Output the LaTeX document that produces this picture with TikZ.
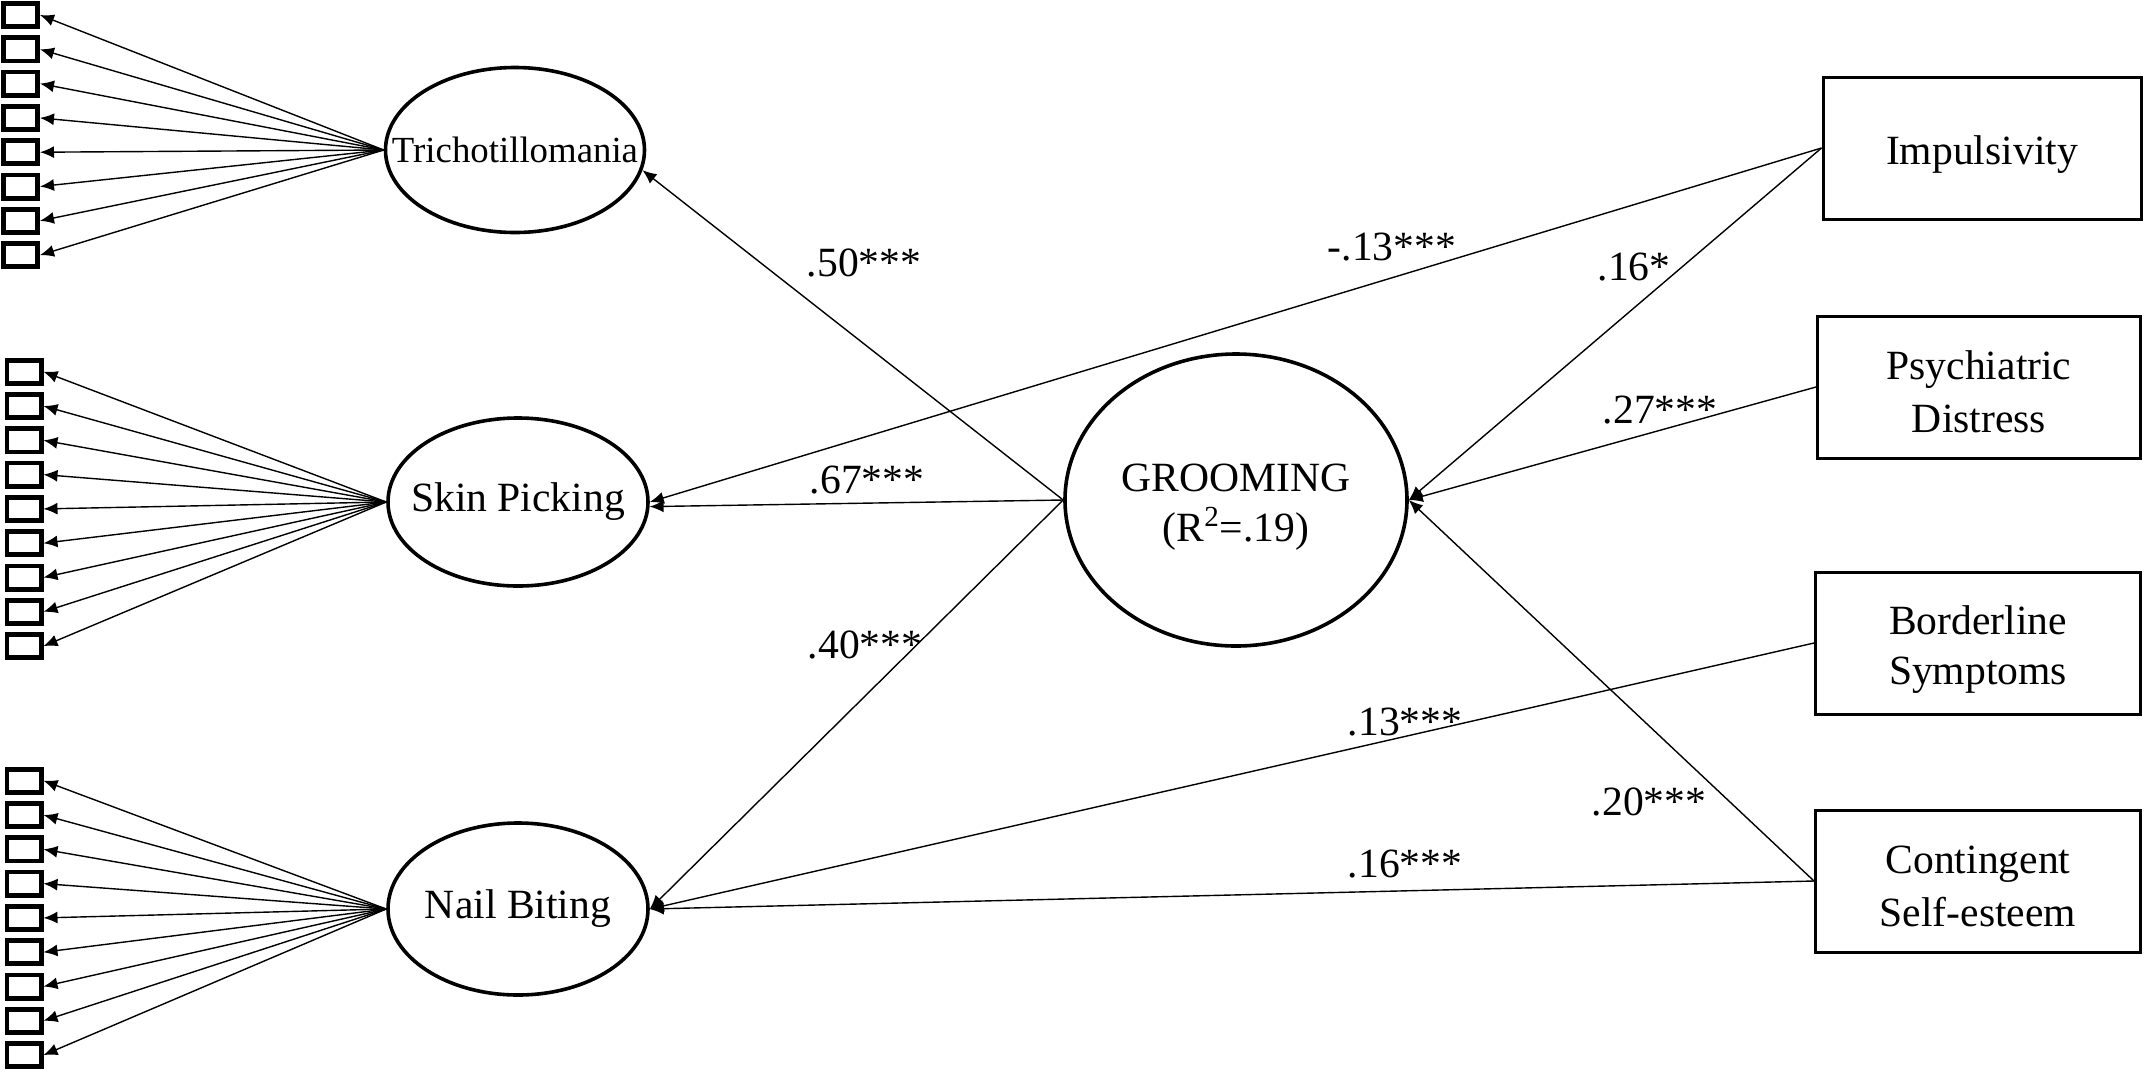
\documentclass[tikz,border=0pt]{standalone}
\usepackage{fontspec}
\setmainfont{Liberation Serif}
\usetikzlibrary{arrows.meta,shapes.geometric}
\newcommand\lnstrut{\rule[-2pt]{0pt}{23pt}}
\tikzset{latent/.style={draw, ellipse, line width=1.8pt, inner sep=0pt, align=center},
    observed/.style={draw, rectangle, line width=1.5pt, minimum height=71pt, align=center},
    indicator/.style={draw, rectangle, line width=2.4pt, minimum width=17.1pt, minimum height=11.6pt, inner sep=0pt},
    regr/.style={-{Latex[length=7pt,width=6pt]}, line width=0.7pt},
    coef/.style={inner sep=0pt},
    }

\begin{document}
\begin{tikzpicture}[x=0.5pt, y=-0.5pt, font=\fontsize{20.8}{25}\selectfont]
\useasboundingbox (0,0) rectangle (2144,1073);

% latent factors
\node[latent, minimum width=129.5pt, minimum height=82.5pt, font=\fontsize{18.4}{22}\selectfont] (tri) at (515,150) {\makebox[0pt]{Trichotillomania}};
\node[latent, minimum width=130pt, minimum height=84pt] (skin) at (518,502) {\makebox[0pt]{Skin Picking}};
\node[latent, minimum width=130pt, minimum height=86pt] (nail) at (518,909) {\makebox[0pt]{Nail Biting}};
\node[latent, minimum width=171pt, minimum height=146pt] (groom) at (1236,500) {\rule{0pt}{20.5pt}GROOMING\\(R\textsuperscript{2}=.19)};

% predictors
\node[observed, minimum width=159pt] (imp) at (1982,148) {\lnstrut Impulsivity\lnstrut};
\node[observed, minimum width=161.5pt] (psy) at (1979,387) {\lnstrut Psychiatric\\Distress\lnstrut};
\node[observed, minimum width=162.5pt] (bord) at (1978,643) {\lnstrut Borderline\\Symptoms\lnstrut};
\node[observed, minimum width=162.5pt] (cont) at (1978,881) {\lnstrut Contingent\\Self-esteem\lnstrut};

% indicators
\foreach \i in {1,...,8}
    \node[indicator] (tri\i) at (20.5,{15+34.3*(\i-1)}) {};
\foreach \i in {1,...,9}
    \node[indicator] (skin\i) at (24,{371.7+34.3*(\i-1)}) {};
\foreach \i in {1,...,9}
    \node[indicator] (nail\i) at (24,{780.7+34.3*(\i-1)}) {};

% loadings
\foreach \i in {1,...,8}
    \draw[regr] (tri.west) -- (tri\i.east);
\foreach \i in {1,...,9}
    \draw[regr] (skin.west) -- (skin\i.east);
\foreach \i in {1,...,9}
    \draw[regr] (nail.west) -- (nail\i.east);

% structural paths
\draw[regr] (groom.west) -- (tri.-9);
\draw[regr] (groom.west) -- (skin.-2);
\draw[regr] (groom.west) -- (nail.east);
\draw[regr] (imp.west) -- (skin.east);
\draw[regr] (imp.west) -- (groom.east);
\draw[regr] (psy.west) -- (groom.east);
\draw[regr] (cont.west) -- (groom.east);
\draw[regr] (bord.west) -- (nail.east);
\draw[regr] (cont.west) -- (nail.east);

% coefficients
\node[coef] (c50) at (864,263) {.50***};
\node[coef] (c67) at (867,480) {.67***};
\node[coef] (c40) at (865,645) {.40***};
\node[coef] (c13n) at (1392,247) {-.13***};
\node[coef] (c16a) at (1634,267) {.16*};
\node[coef] (c27) at (1660,410) {.27***};
\node[coef] (c13) at (1405,722) {.13***};
\node[coef] (c20) at (1649,802) {.20***};
\node[coef] (c16b) at (1405,864) {.16***};
\end{tikzpicture}
\end{document}
